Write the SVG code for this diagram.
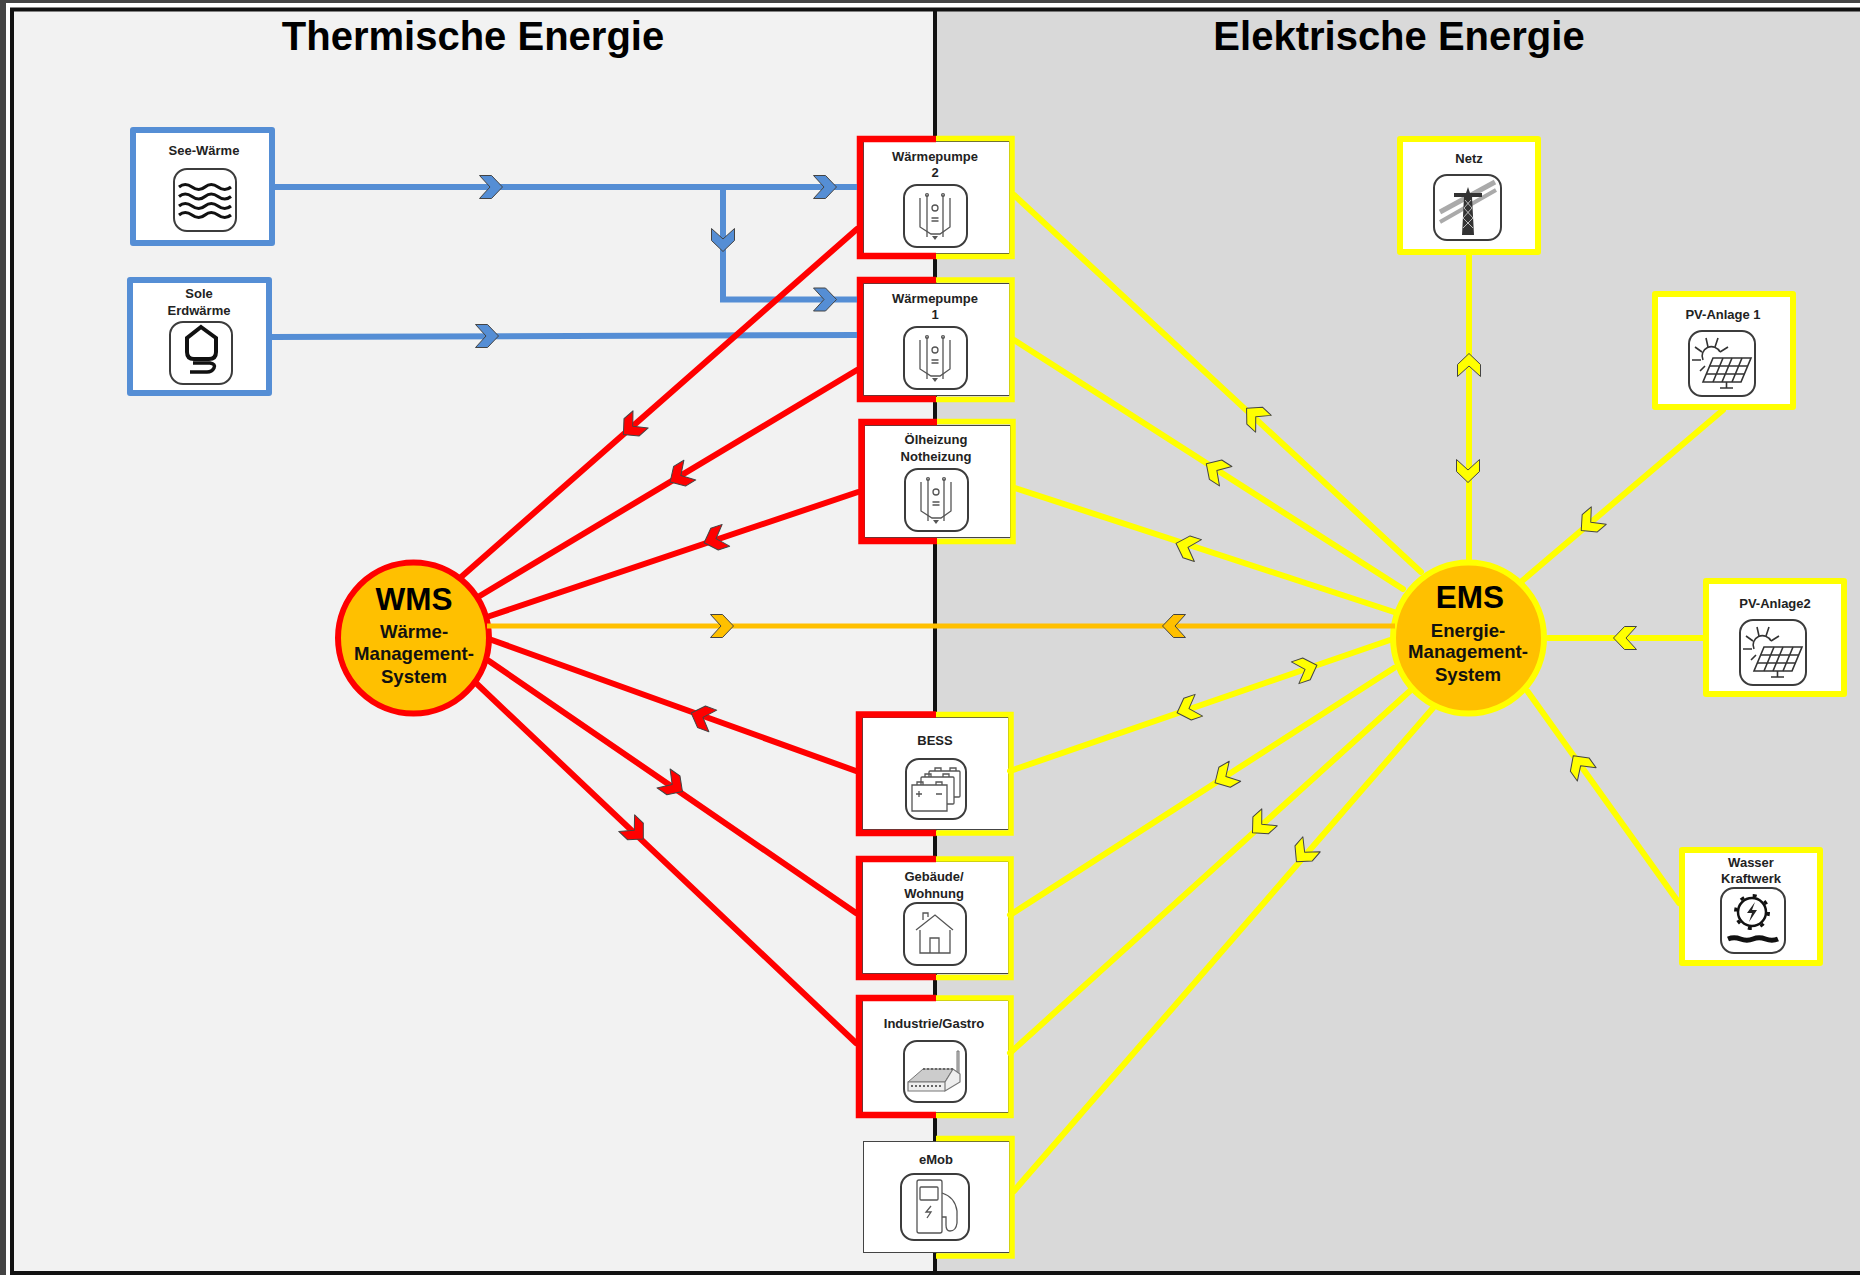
<svg xmlns="http://www.w3.org/2000/svg" xmlns:xlink="http://www.w3.org/1999/xlink" width="1860" height="1275" viewBox="0 0 1860 1275">
<style>
text{font-family:"Liberation Sans",Arial,sans-serif;fill:#111;text-anchor:middle}
.title{font-size:40px;font-weight:700;fill:#000}
.lbl{font-size:13px;font-weight:700;fill:#222}
.abbr{font-size:31.5px;font-weight:700;fill:#000}
.sub{font-size:18.6px;font-weight:700}
.box{fill:#fff;stroke-width:6;stroke-linejoin:round}
.bb{stroke:#558ED5}.by{stroke:#FFFF00}
.inner{fill:#fff;stroke:#444;stroke-width:1}
.edge-r{fill:none;stroke:#F00;stroke-width:6.500}
.edge-y{fill:none;stroke:#FF0;stroke-width:5.500}
.r{stroke:#F00;stroke-width:6;stroke-linecap:round}
.y{stroke:#FF0;stroke-width:6;stroke-linecap:round}
.o{stroke:#FFC000;stroke-width:5}
.b{stroke:#558ED5;stroke-width:6}
.cb{fill:#558ED5}.cr{fill:#F00}.cy{fill:#FF0}.co{fill:#FFC000}
.chev{stroke:#444;stroke-width:1;stroke-linejoin:round}
.hub{fill:#FFC000;stroke-width:6}
.frame{fill:#fff;stroke:#3c3c3c;stroke-width:2}
.g1{fill:none;stroke:#555;stroke-width:1.300}
.g2{fill:none;stroke:#333;stroke-width:1.600}
</style>
<defs>
<polygon id="chev" points="11.5,0 0.5,11.5 -11.5,11.5 -1,0 -11.5,-11.5 0.5,-11.5"/>
<g id="pump">
<rect class="frame" x="1" y="1" width="63" height="62" rx="13"/>
<path class="g1" d="M17,14V43L28,50H37L47,43V14"/>
<path class="g1" d="M24,11V53M40,11V53"/>
<circle class="g1" cx="24" cy="11" r="1.400"/><circle class="g1" cx="40" cy="11" r="1.400"/>
<circle class="g1" cx="32" cy="24" r="3"/>
<path class="g1" d="M28.500,34H35.500M28.500,37H35.500"/>
<path d="M29,52H35L32,56Z" fill="#555"/>
</g>
<g id="solar">
<rect class="frame" x="1" y="1" width="66" height="65" rx="13"/>
<path class="g2" d="M18,8L20,17M30,8L27,17M40,17L32,22M7,17L14,22M4,30H13M12,41L17,36"/>
<path class="g2" d="M15,30A9,9 0 0 1 32,22"/>
<path class="g2" fill="#fff" d="M25,28H63L53,52H15Z"/>
<path class="g2" stroke-width="1.200" d="M21.500,36H59.500M18,44H56.500M35,28L25,52M44,28L34,52M54,28L44,52M38.500,52V58M32,58H45"/>
</g>
</defs>

<rect width="1860" height="1275" fill="#444"/>
<rect x="6" y="3" width="1854" height="1272" fill="#fff"/>
<rect x="12" y="10" width="923" height="1263" fill="#F2F2F2"/>
<rect x="935" y="10" width="925" height="1263" fill="#D9D9D9"/>
<path d="M12,1275V9.500H1860" fill="none" stroke="#111" stroke-width="4"/>
<path d="M10,1273H1860" fill="none" stroke="#111" stroke-width="4"/>
<path d="M935,10V1275" fill="none" stroke="#111" stroke-width="4"/>

<text class="title" x="473" y="50">Thermische Energie</text>
<text class="title" x="1399" y="50">Elektrische Energie</text>

<g id="node-see">
<rect class="box bb" x="133" y="130" width="139" height="113"/>
<text class="lbl" x="204" y="155">See-Wärme</text>
<g transform="translate(173,168)">
<rect class="frame" x="1" y="1" width="62" height="62" rx="13"/>
<path fill="none" stroke="#111" stroke-width="3" d="M6,19q6,-5 13,0t13,0t13,0t13,0M6,28.500q6,-5 13,0t13,0t13,0t13,0M6,38q6,-5 13,0t13,0t13,0t13,0M6,47q6,-5 13,0t13,0t13,0t13,0"/>
</g>
</g>

<g id="node-sole">
<rect class="box bb" x="130" y="280" width="139" height="113"/>
<text class="lbl" x="199" y="298">Sole</text>
<text class="lbl" x="199" y="315">Erdwärme</text>
<g transform="translate(169,321)">
<rect class="frame" x="1" y="1" width="62" height="62" rx="13"/>
<path fill="none" stroke="#111" stroke-width="4" d="M32,6L47,17V31Q47,38 40,38H25Q18,38 18,31V17Z"/>
<path fill="none" stroke="#111" stroke-width="3.500" d="M24,42H41Q47,43 45,47Q43,51 38,51H21"/>
</g>
</g>

<g id="node-wp2">
<rect class="inner" x="863.500" y="141.500" width="146" height="112"/>
<path class="edge-r" d="M936,139H860V256H936"/>
<path class="edge-y" d="M936,138.500H1012V256.500H936"/>
<text class="lbl" x="935" y="161">Wärmepumpe</text>
<text class="lbl" x="935" y="177">2</text>
<use href="#pump" transform="translate(903,184)"/>
</g>

<g id="node-wp1">
<rect class="inner" x="863.500" y="283.500" width="146" height="112"/>
<path class="edge-r" d="M936,280H860V399H936"/>
<path class="edge-y" d="M936,280H1012V399.500H936"/>
<text class="lbl" x="935" y="303">Wärmepumpe</text>
<text class="lbl" x="935" y="319">1</text>
<use href="#pump" transform="translate(903,326)"/>
</g>

<g id="node-oel">
<rect class="inner" x="864.500" y="425.500" width="146" height="112"/>
<path class="edge-r" d="M937,422H861.500V541H937"/>
<path class="edge-y" d="M937,421.500H1013V541.500H937"/>
<text class="lbl" x="936" y="444">Ölheizung</text>
<text class="lbl" x="936" y="461">Notheizung</text>
<use href="#pump" transform="translate(904,468)"/>
</g>

<g id="node-bess">
<rect class="inner" x="862.500" y="717.500" width="146" height="112"/>
<path class="edge-r" d="M936,714.500H859V833H936"/>
<path class="edge-y" d="M936,714.500H1011V833H936"/>
<text class="lbl" x="935" y="745">BESS</text>
<g transform="translate(905,758)">
<rect class="frame" x="1" y="1" width="60" height="60" rx="13"/>
<g class="g1">
<rect x="24" y="13" width="31" height="26" rx="1" fill="#fff"/>
<rect x="16" y="19" width="33" height="27" rx="1" fill="#fff"/>
<path d="M7,27H42V53H7Z" fill="#fff"/>
<path d="M12,27V24H18V27M31,27V24H37V27M20,19V16H26V19M38,19V16H44V19M30,13V10H36V13M45,13V10H51V13"/>
<path d="M11,36H17M14,33V39M31,36H37"/>
</g>
</g>
</g>

<g id="node-gebaeude">
<rect class="inner" x="862.500" y="861.500" width="146" height="112"/>
<path class="edge-r" d="M936,859H859V977H936"/>
<path class="edge-y" d="M936,859H1011V977.500H936"/>
<text class="lbl" x="934" y="881">Gebäude/</text>
<text class="lbl" x="934" y="898">Wohnung</text>
<g transform="translate(903,902)">
<rect class="frame" x="1" y="1" width="62" height="62" rx="13"/>
<path class="g1" stroke-width="1.600" d="M13,28L32,13L50,28M17,28V51H47V28M27,51V36H36V51M20,18V11H25V15"/>
</g>
</g>

<g id="node-industrie">
<rect class="inner" x="862.500" y="1000.500" width="146" height="112"/>
<path class="edge-r" d="M936,998H859V1115H936"/>
<path class="edge-y" d="M936,998H1011V1115.500H936"/>
<text class="lbl" x="934" y="1028">Industrie/Gastro</text>
<g transform="translate(903,1040)">
<rect class="frame" x="1" y="1" width="62" height="61" rx="13"/>
<path fill="#ccc" stroke="#777" stroke-width="1" d="M54,11H56V38H54ZM5,42L20,29H50L42,42Z"/>
<path fill="#eee" stroke="#777" stroke-width="1.200" d="M5,42H42V51H5ZM42,42L50,29L57,34V42L42,51Z"/>
<path fill="none" stroke="#666" stroke-width="2" stroke-dasharray="2 2" d="M20,29H50M8,46H38"/>
</g>
</g>

<g id="node-emob">
<rect class="inner" x="863.500" y="1141.500" width="146" height="111" stroke="#888"/>
<path class="edge-y" d="M936,1138.500H1012V1256H936"/>
<text class="lbl" x="936" y="1164">eMob</text>
<g transform="translate(900,1173)">
<rect class="frame" x="1" y="1" width="68" height="66" rx="13"/>
<g class="g1" stroke-width="1.500">
<rect x="17" y="7" width="25" height="53" rx="2"/>
<rect x="20" y="14" width="18" height="13" rx="1"/>
<path d="M31,33L26,39H31L27,45"/>
<path d="M42,20Q55,24 57,38V50Q56,58 50,58Q46,58 46,52V44H42"/>
</g>
</g>
</g>

<g id="node-netz">
<rect class="box by" x="1400" y="139" width="138" height="113"/>
<text class="lbl" x="1469" y="163">Netz</text>
<g transform="translate(1433,174)">
<rect class="frame" x="1" y="1" width="67" height="65" rx="13"/>
<path fill="none" stroke="#aaa" stroke-width="5" d="M7,38L62,8"/>
<path fill="none" stroke="#aaa" stroke-width="4" d="M7,48L63,16"/>
<path fill="#333" d="M35,13L37,19H49V23H39L41,61H29L31,23H21V19H33Z"/>
<path fill="none" stroke="#ddd" stroke-width="0.800" d="M32,26L39,34L30,44L40,54M38,26L31,34L40,44L30,54"/>
</g>
</g>

<g id="node-pv1">
<rect class="box by" x="1655" y="294" width="138" height="113"/>
<text class="lbl" x="1723" y="319">PV-Anlage 1</text>
<use href="#solar" transform="translate(1688,330)"/>
</g>

<g id="node-pv2">
<rect class="box by" x="1706" y="581" width="138" height="113"/>
<text class="lbl" x="1775" y="608">PV-Anlage2</text>
<use href="#solar" transform="translate(1739,619)"/>
</g>

<g id="node-wasser">
<rect class="box by" x="1682" y="850" width="138" height="113"/>
<text class="lbl" x="1751" y="867">Wasser</text>
<text class="lbl" x="1751" y="883">Kraftwerk</text>
<g transform="translate(1720,887)">
<rect class="frame" x="1" y="1" width="64" height="65" rx="13"/>
<circle cx="32" cy="25" r="14" fill="none" stroke="#111" stroke-width="2.500"/>
<circle cx="32" cy="25" r="16.500" fill="none" stroke="#111" stroke-width="3" stroke-dasharray="4 9"/>
<path d="M35,15L27,26H32L29,35L37,23H32Z" fill="#222"/>
<path fill="none" stroke="#111" stroke-width="5" d="M8,52q6,-2.500 12.500,0t12.500,0t12.500,0t12.500,0"/>
</g>
</g>

<g id="node-wms">
<circle class="hub" cx="413.500" cy="638" r="75.500" stroke="#F00"/>
<text class="abbr" x="414" y="610">WMS</text>
<text class="sub" x="414" y="638">Wärme-</text>
<text class="sub" x="414" y="660">Management-</text>
<text class="sub" x="414" y="683">System</text>
</g>

<g id="node-ems">
<circle class="hub" cx="1468.500" cy="638" r="75.500" stroke="#FF0"/>
<text class="abbr" x="1470" y="608">EMS</text>
<text class="sub" x="1468" y="637">Energie-</text>
<text class="sub" x="1468" y="658">Management-</text>
<text class="sub" x="1468" y="681">System</text>
</g>

<g id="connectors">
<path class="b" fill="none" d="M275,187H857M723,187V299.500H857M272,337L857,335"/>
<g fill="none">
<path class="r" d="M460,578L857,229M478,597L857,370M487,617L858,492M489,639L856,771M489,661L856,913M477,684L856,1043"/>
<path class="o" d="M487,626H1395"/>
<path class="y" d="M1014,195L1421,572M1014,340L1403,589M1015,488L1394,612M1010,771L1390,640M1010,915L1394,668M1010,1053L1411,690M1014,1191L1433,708M1469,255V560M1723,410L1522,581M1703,638H1548M1679,903L1528,692"/>
</g>
<g class="chev">
<use href="#chev" class="cb" transform="translate(491,187)"/>
<use href="#chev" class="cb" transform="translate(825,187)"/>
<use href="#chev" class="cb" transform="translate(723,240) rotate(90)"/>
<use href="#chev" class="cb" transform="translate(825,299.500)"/>
<use href="#chev" class="cb" transform="translate(487,336)"/>
<use href="#chev" class="cr" transform="translate(632,427) rotate(138.500)"/>
<use href="#chev" class="cr" transform="translate(680,476) rotate(148.900)"/>
<use href="#chev" class="cr" transform="translate(715,539) rotate(161.100)"/>
<use href="#chev" class="cr" transform="translate(702,717) rotate(200)"/>
<use href="#chev" class="cr" transform="translate(673,785) rotate(34.700)"/>
<use href="#chev" class="cr" transform="translate(635,831) rotate(43.600)"/>
<use href="#chev" class="co" transform="translate(722,626)"/>
<use href="#chev" class="co" transform="translate(1174,626) rotate(180)"/>
<use href="#chev" class="cy" transform="translate(1255,416) rotate(-137.200)"/>
<use href="#chev" class="cy" transform="translate(1216,470) rotate(-147.400)"/>
<use href="#chev" class="cy" transform="translate(1187,547) rotate(-161.900)"/>
<use href="#chev" class="cy" transform="translate(1188,709) rotate(161)"/>
<use href="#chev" class="cy" transform="translate(1306,669) rotate(-19)"/>
<use href="#chev" class="cy" transform="translate(1225,777) rotate(150)"/>
<use href="#chev" class="cy" transform="translate(1261,825) rotate(137.800)"/>
<use href="#chev" class="cy" transform="translate(1304,853) rotate(131)"/>
<use href="#chev" class="cy" transform="translate(1469,365) rotate(-90)"/>
<use href="#chev" class="cy" transform="translate(1468,471) rotate(90)"/>
<use href="#chev" class="cy" transform="translate(1590,523) rotate(139.600)"/>
<use href="#chev" class="cy" transform="translate(1625,638) rotate(180)"/>
<use href="#chev" class="cy" transform="translate(1580,765) rotate(-125.600)"/>
</g>
</g>
</svg>
